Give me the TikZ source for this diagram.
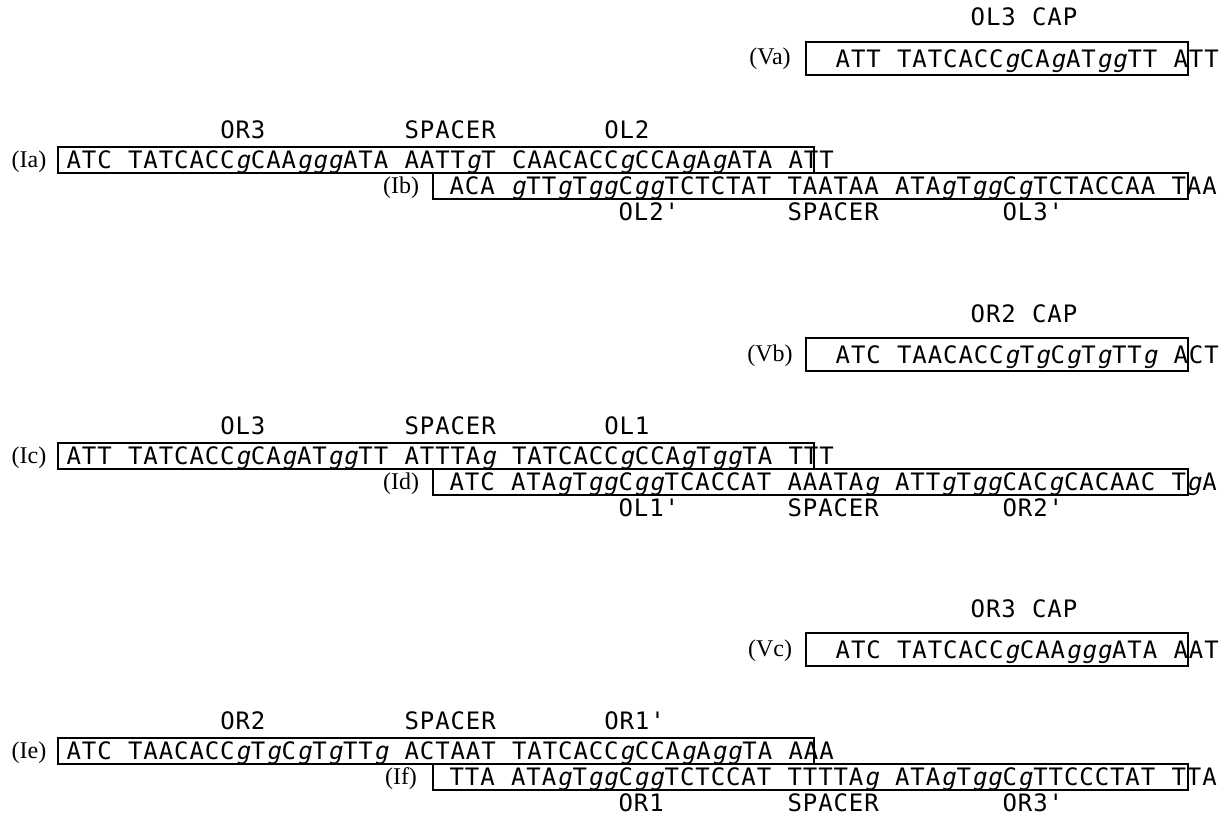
\documentclass[tikz,border=0pt]{standalone}
\usepackage{fontspec}
\newfontfamily\seqf{DejaVu Sans Mono}
\newfontfamily\seqg{DejaVu Sans Mono}[FakeSlant=0.2]
\newfontfamily\serf{Liberation Serif}
\newlength\pitch
\setlength\pitch{15.36pt}
\def\sq#1{\sqloop#1\relax}
\def\sqloop#1{\ifx#1\relax\else\makebox[\pitch]{\sqchar#1}\expandafter\sqloop\fi}
\def\sqchar#1{\ifx#1g{\seqg g}\else#1\fi}
\def\ap{\XeTeXglyph\the\XeTeXcharglyph"27\relax}
\tikzset{
  seq/.style={anchor=base west, inner sep=0pt, font=\seqf\fontsize{24}{24}\selectfont},
  tag/.style={anchor=base, inner sep=0pt, font=\serf\fontsize{24}{24}\selectfont},
  frame/.style={draw=black, line width=1.6pt}
}
\begin{document}
\begin{tikzpicture}[x=1pt,y=-1pt]
\useasboundingbox (0,0) rectangle (1220,816);
% ---------- block 1 ----------
\node[seq] (cap1) at (970,26) {\sq{OL3~CAP}};
\node[tag] (va) at (770,65) {(Va)};
\draw[frame] (806,42) rectangle (1188,75);
\node[seq] (sva) at (835,67) {\sq{ATT~TATCACCgCAgATggTT~ATT}};
\node[seq] (ua) at (66,138) {\sq{~~~~~~~~~~OR3~~~~~~~~~SPACER~~~~~~~OL2}};
\node[tag] (ia) at (29,167) {(Ia)};
\draw[frame] (58,147) rectangle (814,173);
\node[seq] (sia) at (66,168) {\sq{ATC~TATCACCgCAAgggATA~AATTgT~CAACACCgCCAgAgATA~ATT}};
\node[tag] (ib) at (401,193) {(Ib)};
\draw[frame] (433,173) rectangle (1188,199);
\node[seq] (sib) at (449,194) {\sq{ACA~gTTgTggCggTCTCTAT~TAATAA~ATAgTggCgTCTACCAA~TAA}};
\node[seq] (lb) at (449,220) {\sq{~~~~~~~~~~~OL2\ap~~~~~~~SPACER~~~~~~~~OL3\ap}};
% ---------- block 2 ----------
\begin{scope}[yshift=-296pt]
\node[seq] (cap2) at (970,26) {\sq{OR2~CAP}};
\node[tag] (vb) at (770,65) {(Vb)};
\draw[frame] (806,42) rectangle (1188,75);
\node[seq] (svb) at (835,67) {\sq{ATC~TAACACCgTgCgTgTTg~ACT}};
\node[seq] (uc) at (66,138) {\sq{~~~~~~~~~~OL3~~~~~~~~~SPACER~~~~~~~OL1}};
\node[tag] (ic) at (29,167) {(Ic)};
\draw[frame] (58,147) rectangle (814,173);
\node[seq] (sic) at (66,168) {\sq{ATT~TATCACCgCAgATggTT~ATTTAg~TATCACCgCCAgTggTA~TTT}};
\node[tag] (id) at (401,193) {(Id)};
\draw[frame] (433,173) rectangle (1188,199);
\node[seq] (sid) at (449,194) {\sq{ATC~ATAgTggCggTCACCAT~AAATAg~ATTgTggCACgCACAAC~TgA}};
\node[seq] (ld) at (449,220) {\sq{~~~~~~~~~~~OL1\ap~~~~~~~SPACER~~~~~~~~OR2\ap}};
\end{scope}
% ---------- block 3 ----------
\begin{scope}[yshift=-591pt]
\node[seq] (cap3) at (970,26) {\sq{OR3~CAP}};
\node[tag] (vc) at (770,65) {(Vc)};
\draw[frame] (806,42) rectangle (1188,75);
\node[seq] (svc) at (835,67) {\sq{ATC~TATCACCgCAAgggATA~AAT}};
\node[seq] (ue) at (66,138) {\sq{~~~~~~~~~~OR2~~~~~~~~~SPACER~~~~~~~OR1\ap}};
\node[tag] (ie) at (29,167) {(Ie)};
\draw[frame] (58,147) rectangle (814,173);
\node[seq] (sie) at (66,168) {\sq{ATC~TAACACCgTgCgTgTTg~ACTAAT~TATCACCgCCAgAggTA~AAA}};
\node[tag] (if) at (401,193) {(If)};
\draw[frame] (433,173) rectangle (1188,199);
\node[seq] (sif) at (449,194) {\sq{TTA~ATAgTggCggTCTCCAT~TTTTAg~ATAgTggCgTTCCCTAT~TTA}};
\node[seq] (lf) at (449,220) {\sq{~~~~~~~~~~~OR1~~~~~~~~SPACER~~~~~~~~OR3\ap}};
\end{scope}
\end{tikzpicture}
\end{document}
